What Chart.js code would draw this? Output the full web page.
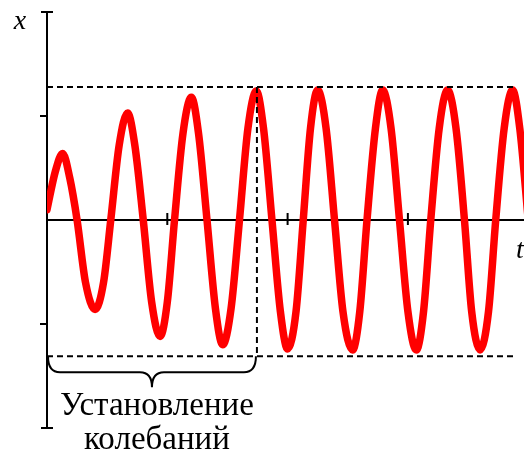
<!DOCTYPE html>
<html>
<head>
<meta charset="utf-8">
<script src="https://cdn.jsdelivr.net/npm/chart.js@4"></script>
<style>
    html, body { margin: 0; padding: 0; background: #fff; }
    canvas { display: block; }
</style>
</head>
<body>
<canvas id="myChart" width="524" height="452"></canvas>
<script>
// time (t) and displacement (x)
const times = [
    0, 0.07, 0.13, 0.19, 0.25, 0.32, 0.40, 0.47, 0.53, 0.60, 0.67, 0.73, 0.80, 0.87, 0.94, 1.00,
    1.06, 1.13, 1.20, 1.26, 1.33, 1.40, 1.46, 1.53, 1.60, 1.67, 1.74, 1.80, 1.87, 1.94, 2.00,
    2.07, 2.13, 2.19, 2.25, 2.32, 2.39, 2.46, 2.54, 2.60, 2.66, 2.73, 2.79, 2.86, 2.93, 3.00,
    3.07, 3.13, 3.19, 3.26, 3.33, 3.40, 3.47, 3.53, 3.60, 3.67, 3.73, 3.80, 3.87, 3.93, 4.00
]
const displacement = [
    0.10, 0.47, 0.64, 0.40, 0, -0.60, -0.86, -0.60, 0, 0.72, 1.03, 0.72, 0, -0.79, -1.12, -0.79,
    0, 0.83, 1.18, 0.83, 0, -0.85, -1.20, -0.85, 0, 0.88, 1.24, 0.88, 0, -0.88, -1.24,
    -0.88, 0, 0.88, 1.25, 0.88, 0, -0.88, -1.25, -0.88, 0, 0.88, 1.25, 0.88, 0, -0.88, -1.25,
    -0.88, 0, 0.88, 1.25, 0.88, 0, -0.88, -1.25, -0.88, 0, 0.88, 1.25, 0.88, 0
]
const tTicks = [1, 2, 3]
const xTicks = [-1, 1]
const xRange = [-2, 2]
const tRange = [0, 3.965]
const steadyLevels = [1.28, -1.31]
const steadyEnd = 3.9
const settleTime = 1.745
const axisNames = ['x', 't']
const braceText = ['Установление', 'колебаний']

const sketchPlugin = {
    id: 'sketch',
    beforeDatasetsDraw(chart) {
        const {ctx, scales: {x, y}} = chart
        const x0 = x.getPixelForValue(0)
        const y0 = y.getPixelForValue(0)
        const yTop = y.getPixelForValue(xRange[1])
        const yBot = y.getPixelForValue(xRange[0])
        ctx.save()
        ctx.strokeStyle = '#000'
        ctx.lineWidth = 2
        ctx.beginPath()
        ctx.moveTo(x0, yTop); ctx.lineTo(x0, yBot)
        ctx.moveTo(x0 - 6, yTop); ctx.lineTo(x0 + 6, yTop)
        ctx.moveTo(x0 - 6, yBot); ctx.lineTo(x0 + 6, yBot)
        ctx.moveTo(x0, y0); ctx.lineTo(chart.width, y0)
        xTicks.forEach(v => {
            const py = y.getPixelForValue(v)
            ctx.moveTo(x0 - 7, py); ctx.lineTo(x0, py)
        })
        tTicks.forEach(v => {
            const px = x.getPixelForValue(v)
            ctx.moveTo(px, y0 - 7); ctx.lineTo(px, y0 + 5)
        })
        ctx.stroke()

        ctx.fillStyle = '#000'
        ctx.font = 'italic 28px "Liberation Serif"'
        ctx.textAlign = 'center'
        ctx.fillText(axisNames[0], 20, 29)
        ctx.textAlign = 'left'
        ctx.fillText(axisNames[1], 516, 258)
        ctx.restore()
    },
    afterDatasetsDraw(chart) {
        const {ctx, scales: {x, y}} = chart
        const x0 = x.getPixelForValue(0)
        const xs = x.getPixelForValue(settleTime)
        const xe = x.getPixelForValue(steadyEnd)
        const yUp = y.getPixelForValue(steadyLevels[0])
        const yLo = y.getPixelForValue(steadyLevels[1])
        ctx.save()
        ctx.strokeStyle = '#000'
        ctx.lineWidth = 2
        ctx.setLineDash([6, 4])
        ctx.beginPath()
        ctx.moveTo(x0, yUp); ctx.lineTo(xe, yUp)
        ctx.moveTo(x0, yLo); ctx.lineTo(xe, yLo)
        ctx.moveTo(xs, yUp); ctx.lineTo(xs, yLo)
        ctx.stroke()

        // brace under the settling part
        ctx.setLineDash([])
        const x1 = x0 + 1, x2 = xs - 1
        const xc = (x1 + x2) / 2
        const yMid = yLo + 16, yTip = yLo + 31, r = 12
        ctx.beginPath()
        ctx.moveTo(x1, yLo)
        ctx.quadraticCurveTo(x1, yMid, x1 + r, yMid)
        ctx.lineTo(xc - r, yMid)
        ctx.quadraticCurveTo(xc, yMid, xc, yTip)
        ctx.quadraticCurveTo(xc, yMid, xc + r, yMid)
        ctx.lineTo(x2 - r, yMid)
        ctx.quadraticCurveTo(x2, yMid, x2, yLo)
        ctx.stroke()

        ctx.fillStyle = '#000'
        ctx.font = '33px "Liberation Serif"'
        ctx.textAlign = 'center'
        ctx.fillText(braceText[0], xc + 5, 415)
        ctx.fillText(braceText[1], xc + 5, 449)
        ctx.restore()
    }
}

const ctx = document.getElementById('myChart').getContext('2d')
const myChart = new Chart(ctx, {
    type: 'line',
    data: {
        datasets: [{
            data: times.map((t, i) => ({x: t, y: displacement[i]})),
            borderColor: '#ff0000',
            borderWidth: 7.5,
            borderCapStyle: 'round',
            borderJoinStyle: 'round',
            pointRadius: 0,
            cubicInterpolationMode: 'monotone',
            fill: false
        }]
    },
    options: {
        responsive: false,
        animation: false,
        events: [],
        layout: { padding: { left: 47, right: 0, top: 12, bottom: 24 } },
        plugins: { legend: { display: false }, tooltip: { enabled: false } },
        scales: {
            x: { type: 'linear', min: tRange[0], max: tRange[1], display: false },
            y: { min: xRange[0], max: xRange[1], display: false }
        }
    },
    plugins: [sketchPlugin]
})
</script>
</body>
</html>
